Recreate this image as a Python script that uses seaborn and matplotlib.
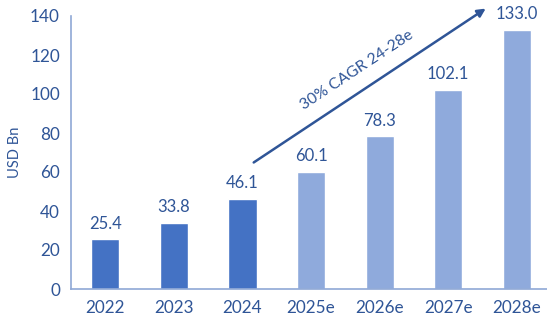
import matplotlib
matplotlib.use("Agg")
import matplotlib.pyplot as plt
import seaborn as sns
import pandas as pd

years = ["2022", "2023", "2024", "2025e", "2026e", "2027e", "2028e"]
values = [25.4, 33.8, 46.1, 60.1, 78.3, 102.1, 133.0]
kind = ["actual", "actual", "actual", "estimate", "estimate", "estimate", "estimate"]
cagr_label = "30% CAGR 24-28e"

sns.set_theme(style="white")
plt.rcParams['font.family'] = ['Lato', 'DejaVu Sans']

df = pd.DataFrame({"year": years, "value": values, "kind": kind})
palette = {"actual": "#4472C4", "estimate": "#8FAADC"}
txt = "#2F5597"

fig = plt.figure(figsize=(5.47, 3.23), dpi=100)
ax = fig.add_axes([71/547, 34/323, 1 - 71/547, (289-16)/323])
sns.barplot(data=df, x="year", y="value", hue="kind", palette=palette,
            dodge=False, width=0.41, legend=False, ax=ax, saturation=1)

ax.set_ylim(0, 140)
ax.set_xlim(-0.5, 6.44)
ax.set_yticks(range(0, 141, 20))
ax.tick_params(axis='both', length=0, colors=txt, labelsize=12.3)
ax.tick_params(axis='x', pad=8)
ax.tick_params(axis='y', pad=8)
ax.set_xlabel("")
ax.set_ylabel("USD Bn", color=txt, fontsize=10.5, labelpad=6)
for s in ["top", "right"]:
    ax.spines[s].set_visible(False)
for s in ["left", "bottom"]:
    ax.spines[s].set_color("#8FA8D6")
    ax.spines[s].set_linewidth(1.2)

for i, v in enumerate(values):
    ax.text(i, v + 4, f"{v:.1f}", ha="center", va="bottom", color=txt, fontsize=12)

ax.annotate("", xy=(5.58, 144.6), xytext=(2.13, 64.1),
            arrowprops=dict(arrowstyle="-|>", color="#2F5597", lw=1.8, mutation_scale=12),
            annotation_clip=False)
ax.text(3.67, 112, cagr_label, rotation=33.5, ha="center", va="center",
        color=txt, fontsize=11.3, rotation_mode="anchor")

fig.savefig("out.png", dpi=100)
